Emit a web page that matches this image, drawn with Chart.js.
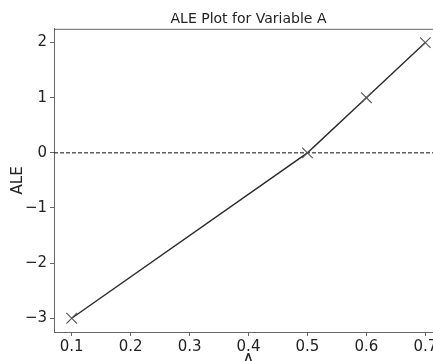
<!DOCTYPE html>
<html>
<head>
<meta charset="utf-8">
<script src="https://cdn.jsdelivr.net/npm/chart.js@4/dist/chart.umd.min.js"></script>
<style>
  html, body { margin: 0; padding: 0; background: #fff; overflow: hidden; }
  #wrap { width: 433px; height: 361px; overflow: hidden; }
</style>
</head>
<body>
<div id="wrap"><canvas id="ale" width="460" height="375"></canvas></div>
<script>
// values
var xValues = [0.1, 0.5, 0.6, 0.7];
var aleValues = [-3, 0, 1, 2];
var xTicks = [0.1, 0.2, 0.3, 0.4, 0.5, 0.6, 0.7];
var yTicks = [-3, -2, -1, 0, 1, 2];
var refLine = 0;

Chart.defaults.font.family = 'DejaVu Sans';
Chart.defaults.color = '#222';

var spines = {
  id: 'spines',
  beforeDatasetsDraw: function (chart) {
    var ctx = chart.ctx, a = chart.chartArea;
    var y0 = chart.scales.y.getPixelForValue(refLine);
    ctx.save();
    // dashed line at zero
    ctx.strokeStyle = '#111';
    ctx.lineWidth = 1;
    ctx.setLineDash([4, 2]);
    ctx.beginPath();
    ctx.moveTo(a.left, y0);
    ctx.lineTo(a.right, y0);
    ctx.stroke();
    // top and right spines
    ctx.setLineDash([]);
    ctx.strokeStyle = '#666';
    ctx.beginPath();
    ctx.moveTo(a.left, a.top + 0.5);
    ctx.lineTo(a.right, a.top + 0.5);
    ctx.lineTo(a.right, a.bottom);
    ctx.stroke();
    ctx.restore();
  }
};

var points = xValues.map(function (x, i) { return { x: x, y: aleValues[i] }; });

new Chart(document.getElementById('ale').getContext('2d'), {
  type: 'scatter',
  data: {
    datasets: [{
      data: points,
      showLine: true,
      borderColor: '#2a2a2a',
      borderWidth: 1.4,
      pointStyle: 'crossRot',
      pointRadius: 7.5,
      pointBorderColor: '#555',
      pointBorderWidth: 1.1,
      pointBackgroundColor: 'transparent'
    }]
  },
  options: {
    responsive: false,
    animation: false,
    layout: { padding: { left: 0, right: 17, top: 0, bottom: 0 } },
    plugins: {
      legend: { display: false },
      tooltip: { enabled: false },
      title: {
        display: true,
        text: 'ALE Plot for Variable A',
        fullSize: false,
        color: '#222',
        font: { size: 14, weight: 'normal' },
        padding: { top: 11, bottom: 1 }
      }
    },
    scales: {
      x: {
        type: 'linear',
        min: 0.07,
        max: 0.73,
        afterBuildTicks: function (s) { s.ticks = xTicks.map(function (v) { return { value: v }; }); },
        afterFit: function (s) { s.height = 43; },
        ticks: {
          padding: 2,
          font: { size: 15 },
          maxRotation: 0,
          callback: function (v) { return v.toFixed(1); }
        },
        grid: { drawOnChartArea: false, drawTicks: true, tickLength: 4, tickColor: '#666' },
        border: { display: true, color: '#666', width: 1 },
        title: { display: true, text: 'A', font: { size: 15 }, padding: { top: 0, bottom: 5 } }
      },
      y: {
        min: -3.25,
        max: 2.25,
        afterBuildTicks: function (s) { s.ticks = yTicks.map(function (v) { return { value: v }; }); },
        afterFit: function (s) { s.width = 54; },
        ticks: {
          padding: 3,
          font: { size: 15 },
          callback: function (v) { return v < 0 ? '\u2212' + Math.abs(v) : String(v); }
        },
        grid: { drawOnChartArea: false, drawTicks: true, tickLength: 4, tickColor: '#666' },
        border: { display: true, color: '#666', width: 1 },
        title: { display: true, text: 'ALE', font: { size: 15 }, padding: { top: 9, bottom: 0 } }
      }
    }
  },
  plugins: [spines]
});
</script>
</body>
</html>
